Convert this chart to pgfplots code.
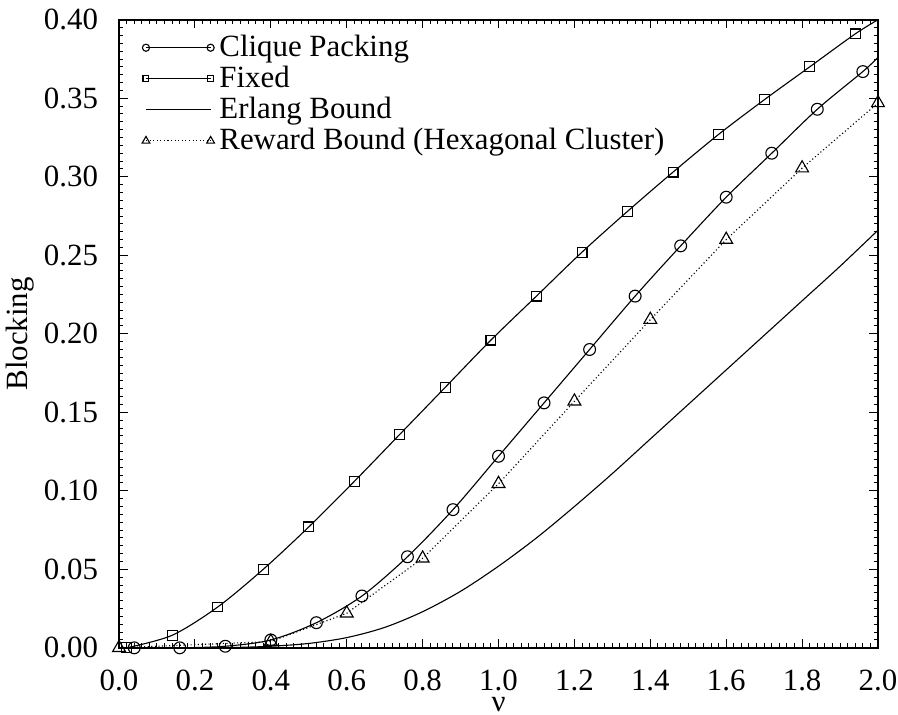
\documentclass[border=0pt]{standalone}
\usepackage{fontspec}
\setmainfont{Liberation Serif}
\usepackage{pgfplots}
\pgfplotsset{compat=1.18}
\begin{document}
\begin{tikzpicture}
\useasboundingbox (0,0) rectangle (363.6pt,289.5pt);
\begin{axis}[
  at={(48.2pt,27.2pt)}, anchor=south west,
  scale only axis, width=307.3pt, height=254.3pt,
  xmin=0, xmax=2, ymin=0, ymax=0.4,
  xtick={0,0.2,...,2.01}, ytick={0,0.05,...,0.401},
  minor tick num=9,
  tick align=inside, tick pos=both,
  major tick length=3.5pt, minor tick length=1.8pt,
  every tick/.style={black, line width=0.4pt},
  axis line style={line width=0.6pt},
  font=\fontsize{12.5}{14}\selectfont,
  /pgf/number format/assume math mode=true,
  xticklabel style={inner sep=1pt, yshift=-7.7pt, /pgf/number format/.cd, fixed, fixed zerofill, precision=1},
  yticklabel style={xshift=-5pt, /pgf/number format/.cd, fixed, fixed zerofill, precision=2},
  xlabel={ν}, ylabel={Blocking},
  xlabel style={at={(axis description cs:0.5,-0.090)}, anchor=center, inner sep=0pt},
  ylabel style={at={(axis description cs:-0.130,0.5)}, anchor=center},
  legend cell align=left,
  legend style={at={(axis description cs:0.02,0.992)}, anchor=north west, draw=none, fill=none,
     font=\fontsize{12.5}{13}\selectfont, row sep=-1.6pt},
  legend image code/.code={\draw[#1, every mark/.append style={scale=0.6}] plot coordinates {(0cm,0cm) (0.92cm,0cm)};},
]
\addplot[black, line width=0.45pt, smooth, mark=o, mark size=2.4pt, mark options={solid},
  mark indices={1,2,3,4,5,6,7,8,9,10,11,12,13,14,15,16,17}] coordinates {
 (0.04,0.000) (0.16,0.000) (0.28,0.001) (0.40,0.005) (0.52,0.016) (0.64,0.033)
 (0.76,0.058) (0.88,0.088) (1.00,0.122) (1.12,0.156) (1.24,0.190) (1.36,0.224)
 (1.48,0.256) (1.60,0.287) (1.72,0.315) (1.84,0.343) (1.96,0.367) (2.00,0.376)};
\addlegendentry{Clique Packing}
\addplot[black, line width=0.45pt, smooth, mark=square, mark size=2.0pt, mark options={solid},
  mark indices={1,2,3,4,5,6,7,8,9,10,11,12,13,14,15,16,17}] coordinates {
 (0.02,0.000) (0.14,0.008) (0.26,0.026) (0.38,0.050) (0.50,0.077) (0.62,0.106)
 (0.74,0.136) (0.86,0.166) (0.98,0.196) (1.10,0.224) (1.22,0.252) (1.34,0.278)
 (1.46,0.303) (1.58,0.327) (1.70,0.349) (1.82,0.370) (1.94,0.391) (2.00,0.400)};
\addlegendentry{Fixed}
\addplot[black, line width=0.45pt, smooth, no marks] coordinates {
 (0.0,0.0) (0.2,0.0) (0.3,0.0002) (0.4,0.001) (0.5,0.0028) (0.6,0.0065) (0.7,0.013)
 (0.8,0.023) (0.9,0.036) (1.0,0.052) (1.1,0.070) (1.2,0.090) (1.3,0.111)
 (1.4,0.133) (1.5,0.155) (1.6,0.177) (1.7,0.199) (1.8,0.221) (1.9,0.243) (2.0,0.266)};
\addlegendentry{Erlang Bound}
\addplot[black, line width=0.45pt, densely dotted, mark=triangle, mark size=3pt, mark options={solid}] coordinates {
 (0.0,0.000) (0.4,0.004) (0.6,0.022) (0.8,0.057) (1.0,0.1045) (1.2,0.157)
 (1.4,0.209) (1.6,0.260) (1.8,0.3055) (2.0,0.347)};
\addlegendentry{Reward Bound (Hexagonal Cluster)}
\end{axis}
\end{tikzpicture}
\end{document}
